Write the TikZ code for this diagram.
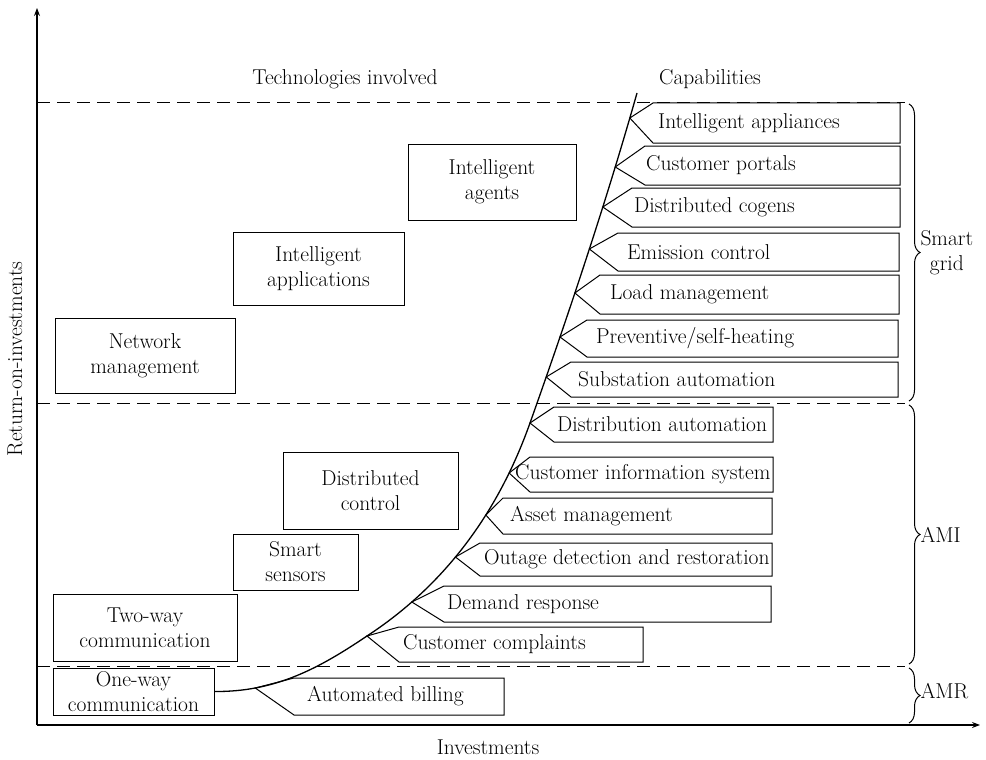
\documentclass[tikz,border=0pt]{standalone}
\usetikzlibrary{arrows.meta, decorations.pathreplacing, intersections}

\begin{document}
\begin{tikzpicture}[
    x=1pt, y=-1pt,
    >=Stealth,
    % Styles
    every node/.style={font=\fontsize{21.5}{25}\selectfont},
    tech/.style={draw, rectangle, align=center, inner sep=0pt, line width=1pt},
    capab/.style={draw, line width=1pt, line join=miter},
    captext/.style={anchor=west, inner sep=0pt},
    sep/.style={dash pattern=on 13pt off 7pt, line width=1pt},
    axis/.style={->, line width=1.1pt},
    growth/.style={line width=1.3pt},
    bracket/.style={decorate, decoration={brace, amplitude=11pt}, line width=1pt},
    stage/.style={anchor=west, align=center, inner sep=0pt}
    ]
    \useasboundingbox (0,0) rectangle (986,760);

    % 1. Axes
    \coordinate (origin) at (37,725);
    \coordinate (ytop) at (37,8);
    \coordinate (xend) at (980,725);
    \draw[axis] (origin) -- (ytop);
    \draw[axis] (origin) -- (xend);
    \node (ylabel) [rotate=90] at (15,359) {Return-on-investments};
    \node (xlabel) at (488,747) {Investments};

    % 2. Headings
    \node (techhead) at (345,79) {Technologies involved};
    \node (caphead) at (710,79) {Capabilities};

    % 3. Stage separators
    \draw[sep] (37,103) -- (905,103);
    \draw[sep] (37,403) -- (905,403);
    \draw[sep] (37,666) -- (905,666);

    % 4. Technologies involved
    \node (netw) [tech, minimum width=180pt, minimum height=75pt] at (145,355.5) {Network\\management};
    \node (iapps) [tech, minimum width=171pt, minimum height=73pt] at (318.5,268.5) {Intelligent\\applications};
    \node (iagents) [tech, minimum width=168pt, minimum height=76pt] at (492,182) {Intelligent\\agents};
    \node (dctrl) [tech, minimum width=175pt, minimum height=77pt] at (370.5,490.5) {Distributed\\control};
    \node (ssens) [tech, minimum width=125pt, minimum height=56pt] at (295.5,562) {Smart\\sensors};
    \node (twoway) [tech, minimum width=184pt, minimum height=67pt] at (145,627.5) {Two-way\\communication};
    \node (oneway) [tech, minimum width=161pt, minimum height=47pt] at (133.5,691.5) {One-way\\communication};

    % 5. Growth curve from one-way communication up to smart grid
    \coordinate (bendlow) at (367,636);
    \coordinate (bendmid) at (530,423);
    \coordinate (curvetop) at (637,93);
    \draw[growth, name path=growth] (oneway.east)
        .. controls (275,692) and (318,669) .. (bendlow)
        .. controls (442,587) and (497,516) .. (bendmid)
        .. controls (573,302) and (609,192) .. (curvetop);

    % 6. Capabilities (tip sits on the curve, pointed box to its right)
    \foreach \n/\ty/\cx/\yt/\yb/\rx/\lx/\txt in {
        1/118/653/103/143/900/658/{Intelligent appliances},
        2/167/645/146/185/900/646/{Customer portals},
        3/207/632/188/227/900/634/{Distributed cogens},
        4/249/618/233/271/899/627/{Emission control},
        5/293/600/275/314/899/610/{Load management},
        6/337/587/320/357/898/596/{Preventive/self-heating},
        7/377/571/362/397/898/578/{Substation automation},
        8/423/554/407/442/773/557/{Distribution automation},
        9/473/530/457/492/773/515/{Customer information system},
        10/515/503/498/534/772/510/{Asset management},
        11/557/480/543/576/772/484/{Outage detection and restoration},
        12/602/444/586/622/771/447/{Demand response},
        13/636/399/627/662/643/403/{Customer complaints},
        14/688/294/678/715/504/307/{Automated billing}}{
        \path[name path=hl] (200,\ty) -- (720,\ty);
        \path[name intersections={of=growth and hl, by={t\n}}];
        \draw[capab] (t\n) -- (\cx,\yt) -- (\rx,\yt) -- (\rx,\yb) -- (\cx,\yb) -- cycle;
        \node (c\n) [captext] at (\lx,{(\yt+\yb)/2}) {\txt};
    }

    % 7. Stages
    \draw[bracket] (909,104) -- (909,401) node (sgrid) [stage, midway, xshift=11pt] {Smart\\grid};
    \draw[bracket] (909,405) -- (909,664) node (ami) [stage, midway, xshift=11pt] {AMI};
    \draw[bracket] (909,668) -- (909,723) node (amr) [stage, midway, xshift=11pt, yshift=4pt] {AMR};
\end{tikzpicture}
\end{document}
